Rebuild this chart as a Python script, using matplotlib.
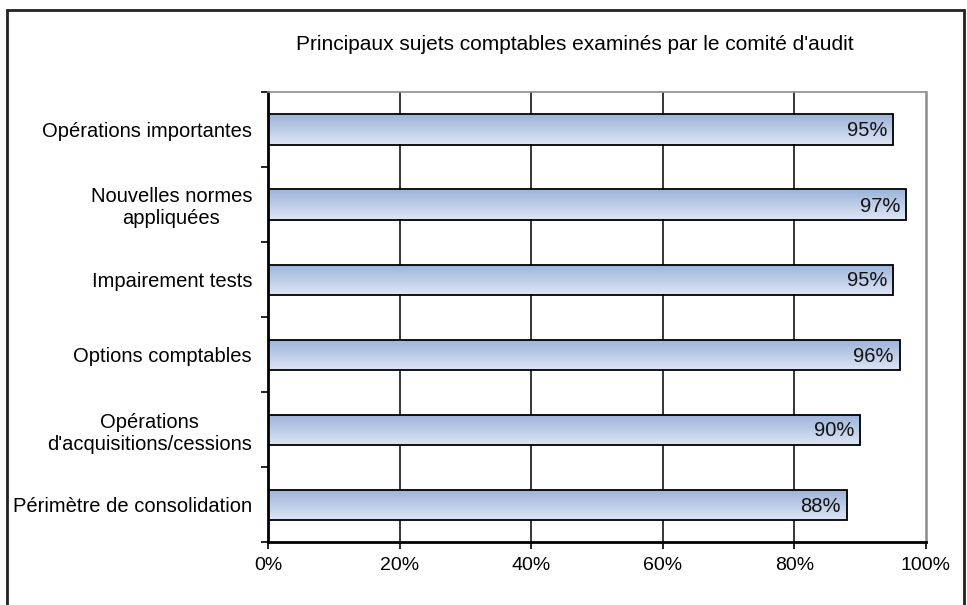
import numpy as np
import matplotlib.pyplot as plt
from matplotlib.colors import LinearSegmentedColormap
from matplotlib.patches import Rectangle

# données : sujets examinés par le comité d'audit (du haut vers le bas)
sujets = [
    "Opérations importantes",
    "Nouvelles normes\nappliquées",
    "Impairement tests",
    "Options comptables",
    "Opérations\nd'acquisitions/cessions",
    "Périmètre de consolidation",
]
pourcentages = [95, 97, 95, 96, 90, 88]
graduations = [0, 20, 40, 60, 80, 100]
titre = "Principaux sujets comptables examinés par le comité d'audit"

plt.rcParams['font.family'] = ['Liberation Sans', 'DejaVu Sans']

fig = plt.figure(figsize=(9.67, 6.05), dpi=100)
ax = fig.add_axes([268 / 967, 1 - 542 / 605, (926 - 268) / 967, (542 - 92) / 605])

n = len(sujets)
y = np.arange(n)[::-1]          # premier sujet en haut
hauteur = 0.4

# dégradé bleu : clair en bas, plus foncé en haut
degrade = LinearSegmentedColormap.from_list("bleu", ["#dde5f5", "#9bb3d9"])
grad = np.linspace(0, 1, 256).reshape(-1, 1)

barres = ax.barh(y, pourcentages, height=hauteur, facecolor='none',
                 edgecolor='black', linewidth=1.3, zorder=3)
for b in barres:
    x0, y0 = b.get_x(), b.get_y()
    im = ax.imshow(grad, cmap=degrade, origin='lower', aspect='auto',
                   extent=[x0, x0 + b.get_width(), y0, y0 + b.get_height()],
                   zorder=2)
    im.set_clip_path(b)

for yi, v in zip(y, pourcentages):
    ax.text(v - 0.9, yi - 0.02, f"{v}%", ha='right', va='center',
            fontsize=14.5, color='#111111', zorder=4)

ax.set_xlim(0, 100)
ax.set_ylim(-0.5, n - 0.5)
ax.set_xticks(graduations)
ax.set_xticklabels([f"{g}%" for g in graduations])
ax.set_yticks(y)
ax.set_yticklabels(sujets, ha='right', multialignment='center')
ax.set_yticks(np.arange(n + 1) - 0.5, minor=True)

ax.tick_params(axis='y', which='major', length=0, pad=11.5, labelsize=14.5)
ax.tick_params(axis='y', which='minor', length=5, width=1.2, direction='out')
ax.tick_params(axis='x', length=5, width=1.2, direction='out', pad=6,
               labelsize=14)

# quadrillage vertical noir
for g in graduations[1:-1]:
    ax.axvline(g, color='black', linewidth=1.1, zorder=1)

ax.spines['left'].set_linewidth(2)
ax.spines['bottom'].set_linewidth(2)
ax.spines['top'].set_color('#8c8c8c')
ax.spines['right'].set_color('#8c8c8c')
ax.spines['top'].set_linewidth(1.2)
ax.spines['right'].set_linewidth(1.8)

fig.text(575 / 967, 1 - 45 / 605, titre, ha='center', va='center', fontsize=15)

# cadre extérieur du graphique
fig.patches.append(Rectangle((7 / 967, -0.1), (964 - 7) / 967, 1.1 - 10 / 605,
                             transform=fig.transFigure, fill=False,
                             edgecolor='#222222', linewidth=2))

fig.savefig("out.png", dpi=100)
